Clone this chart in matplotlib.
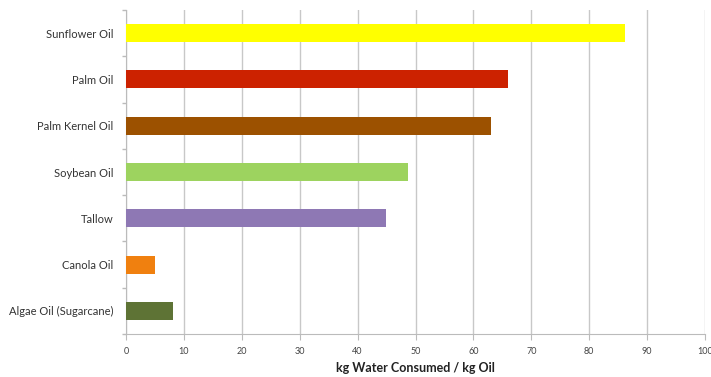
import numpy as np
import matplotlib.pyplot as plt
from matplotlib.ticker import FixedLocator

plt.rcParams["font.family"] = ["Lato", "DejaVu Sans"]

# water footprint of each oil feedstock
oils = ["Sunflower Oil", "Palm Oil", "Palm Kernel Oil", "Soybean Oil",
        "Tallow", "Canola Oil", "Algae Oil (Sugarcane)"]
water = [86.2, 65.9, 63.0, 48.7, 44.9, 5.0, 8.1]
colors = ["#FFFF00", "#CC2200", "#9C5100", "#9DD35F",
          "#8E78B4", "#F0800F", "#5E7335"]

fig = plt.figure(figsize=(7.11, 3.77), dpi=100)
ax = fig.add_axes([0.1772, 0.114, 0.8144, 0.8595])

y = np.arange(len(oils))
ax.barh(y, water, height=0.39, color=colors, zorder=3)

ax.set_xlim(0, 100)
ax.set_ylim(len(oils) - 0.5, -0.5)
ax.set_xticks(np.arange(0, 101, 10))
ax.set_yticks(y)
ax.set_yticklabels(oils, fontsize=8, color="#333333")
ax.yaxis.set_minor_locator(FixedLocator(np.arange(-0.5, len(oils), 1)))
ax.tick_params(axis="y", which="major", length=0, pad=9)
ax.tick_params(axis="y", which="minor", length=3, color="#BBBBBB", width=1)
ax.tick_params(axis="x", length=4, color="#BBBBBB", labelsize=6.5,
               labelcolor="#444444", pad=5)

ax.grid(axis="x", color="#C8C8C8", linewidth=1, zorder=0)
for side in ["top", "right"]:
    ax.spines[side].set_visible(False)
ax.spines["left"].set_color("#BBBBBB")
ax.spines["bottom"].set_color("#BBBBBB")

ax.set_xlabel("kg Water Consumed / kg Oil", fontsize=9, fontweight="bold",
              color="#222222", labelpad=5)

fig.savefig("out.png", dpi=100)
